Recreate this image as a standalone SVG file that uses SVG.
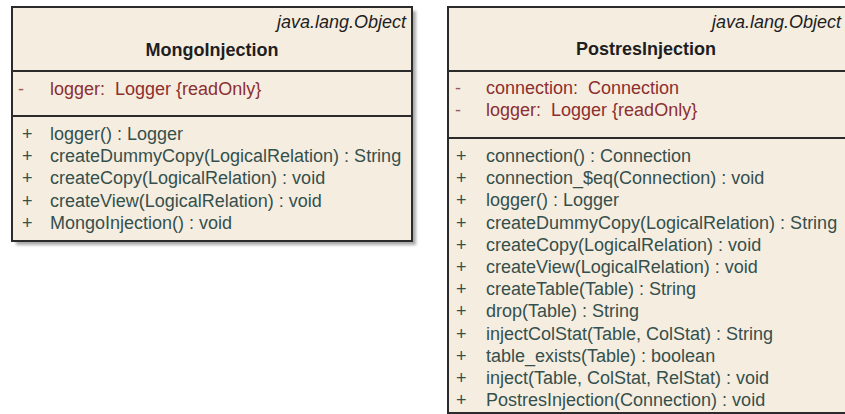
<svg xmlns="http://www.w3.org/2000/svg" width="845" height="414" viewBox="0 0 845 414">
  <defs>
    <filter id="blur" x="-5%" y="-5%" width="110%" height="110%">
      <feGaussianBlur stdDeviation="1.5"/>
    </filter>
  </defs>
  <style>
    text { font-family: "Liberation Sans", Arial, sans-serif; font-size: 18px; }
    .box { fill: #f6ede1; stroke: #2b2b2b; stroke-width: 2; }
    .shadow { fill: #a9a9a9; filter: url(#blur); }
    .div { stroke: #2b2b2b; stroke-width: 2; }
    .stereo { font-style: italic; fill: #1e1e1e; text-anchor: end; }
    .name { font-weight: bold; fill: #1e1e1e; text-anchor: middle; }
    .attr { fill: #8c2f2f; white-space: pre; }
    .amark { fill: #9a5a5a; }
    .op { fill: #34504c; }
    .omark { fill: #34504c; }
  </style>
  <rect width="845" height="414" fill="#ffffff"/>
  <g id="connectors"/>
  <g id="MongoInjection">
    <rect class="shadow" x="16" y="11" width="400" height="234"/>
    <rect class="box" x="12" y="7" width="400" height="234"/>
    <line class="div" x1="12" y1="71" x2="412" y2="71"/>
    <line class="div" x1="12" y1="116" x2="412" y2="116"/>
    <text class="stereo" x="406" y="28">java.lang.Object</text>
    <text class="name" x="212" y="56">MongoInjection</text>
    <text class="amark" x="18" y="95">-</text>
    <text class="attr" x="50" y="95" xml:space="preserve">logger:  Logger {readOnly}</text>
    <text class="omark" x="22" y="140">+</text>
    <text class="op" x="50" y="140">logger() : Logger</text>
    <text class="omark" x="22" y="162.2">+</text>
    <text class="op" x="50" y="162.2">createDummyCopy(LogicalRelation) : String</text>
    <text class="omark" x="22" y="184.4">+</text>
    <text class="op" x="50" y="184.4">createCopy(LogicalRelation) : void</text>
    <text class="omark" x="22" y="206.6">+</text>
    <text class="op" x="50" y="206.6">createView(LogicalRelation) : void</text>
    <text class="omark" x="22" y="228.8">+</text>
    <text class="op" x="50" y="228.8">MongoInjection() : void</text>
  </g>
  <g id="PostresInjection">
    <rect class="shadow" x="452" y="11" width="420" height="410"/>
    <rect class="box" x="448" y="7" width="420" height="406"/>
    <line class="div" x1="448" y1="71" x2="868" y2="71"/>
    <line class="div" x1="448" y1="138" x2="868" y2="138"/>
    <text class="stereo" x="841" y="28">java.lang.Object</text>
    <text class="name" x="646" y="55">PostresInjection</text>
    <text class="amark" x="455" y="94">-</text>
    <text class="attr" x="486" y="94" xml:space="preserve">connection:  Connection</text>
    <text class="amark" x="455" y="115.7">-</text>
    <text class="attr" x="486" y="115.7" xml:space="preserve">logger:  Logger {readOnly}</text>
    <text class="omark" x="456" y="162">+</text>
    <text class="op" x="486" y="162">connection() : Connection</text>
    <text class="omark" x="456" y="184.2">+</text>
    <text class="op" x="486" y="184.2">connection_$eq(Connection) : void</text>
    <text class="omark" x="456" y="206.4">+</text>
    <text class="op" x="486" y="206.4">logger() : Logger</text>
    <text class="omark" x="456" y="228.6">+</text>
    <text class="op" x="486" y="228.6">createDummyCopy(LogicalRelation) : String</text>
    <text class="omark" x="456" y="250.8">+</text>
    <text class="op" x="486" y="250.8">createCopy(LogicalRelation) : void</text>
    <text class="omark" x="456" y="273">+</text>
    <text class="op" x="486" y="273">createView(LogicalRelation) : void</text>
    <text class="omark" x="456" y="295.2">+</text>
    <text class="op" x="486" y="295.2">createTable(Table) : String</text>
    <text class="omark" x="456" y="317.4">+</text>
    <text class="op" x="486" y="317.4">drop(Table) : String</text>
    <text class="omark" x="456" y="339.6">+</text>
    <text class="op" x="486" y="339.6">injectColStat(Table, ColStat) : String</text>
    <text class="omark" x="456" y="361.8">+</text>
    <text class="op" x="486" y="361.8">table_exists(Table) : boolean</text>
    <text class="omark" x="456" y="384">+</text>
    <text class="op" x="486" y="384">inject(Table, ColStat, RelStat) : void</text>
    <text class="omark" x="456" y="406.2">+</text>
    <text class="op" x="486" y="406.2">PostresInjection(Connection) : void</text>
  </g>
</svg>
